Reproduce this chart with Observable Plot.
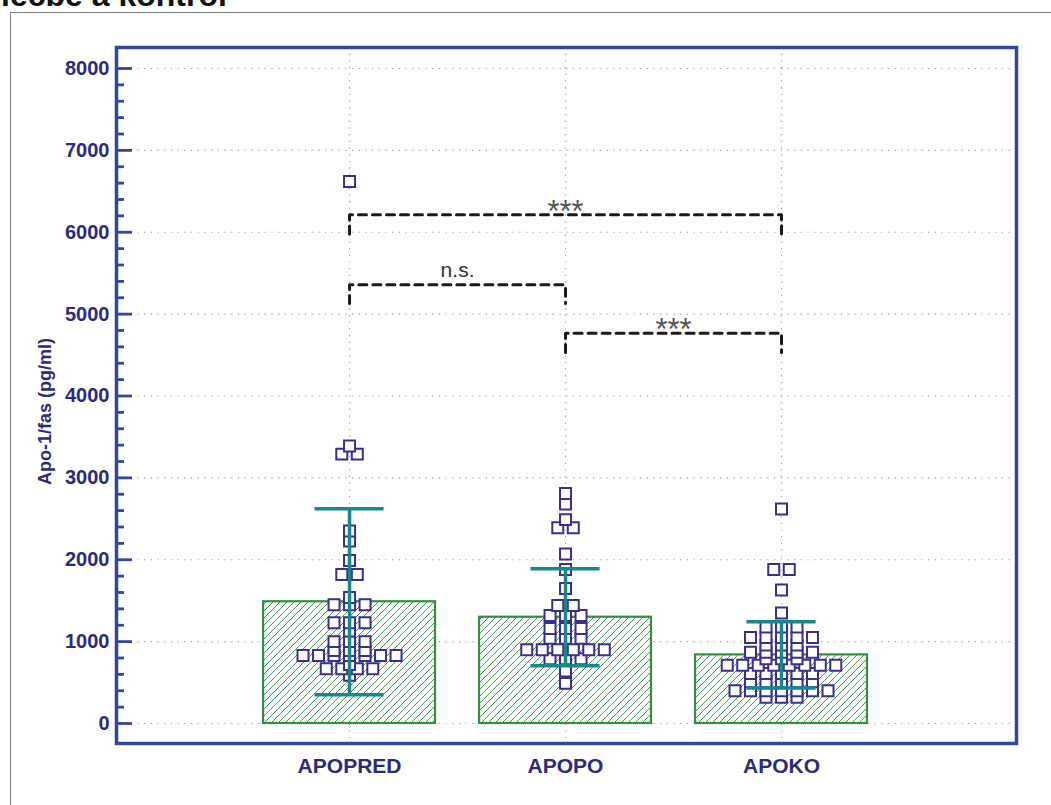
<!DOCTYPE html>
<html>
<head>
<meta charset="utf-8">
<script src="https://cdn.jsdelivr.net/npm/d3@7"></script>
<script src="https://cdn.jsdelivr.net/npm/@observablehq/plot@0.6"></script>
<style>
html, body { margin: 0; padding: 0; background: #fff; }
#page { position: relative; width: 1051px; height: 805px; overflow: hidden; background: #fff; font-family: "Liberation Sans", Arial, sans-serif; }
#title { position: absolute; left: 1px; top: -21px; font-size: 32px; font-weight: bold; line-height: 32px; color: #111; white-space: nowrap; }
#border { position: absolute; left: 10px; top: 12px; width: 1100px; height: 900px; border: 1px solid #7a7a7a; }
#chart { position: absolute; left: 0; top: 0; }
</style>
</head>
<body>
<div id="page">
  <div id="title">léčbě a kontrol</div>
  <div id="border"></div>
  <div id="chart"></div>
</div>
<script>
// ---- data ----
const groups = ["APOPRED", "APOPO", "APOKO"];
const means = [1487, 1298, 838];
const sds = [1136, 593, 405];

const valuesAPOPRED = [6620, 3390, 3290, 3290, 2350, 2230, 1990, 1820, 1820, 1540,
  1450, 1450, 1450, 1230, 1230, 1230, 1130, 1000, 1000, 1000, 890, 890, 890,
  830, 830, 830, 830, 830, 830, 830, 720, 670, 670, 670, 670, 590];
const valuesAPOPO = [2810, 2680, 2490, 2390, 2390, 2070, 1880, 1650, 1440, 1440,
  1320, 1320, 1320, 1160, 1160, 1160, 1040, 1040, 1040, 900, 900, 900, 900, 900, 900,
  790, 790, 790, 640, 490];
const valuesAPOKO = [2620, 1880, 1880, 1630, 1350, 1180, 1180, 1180,
  1050, 1050, 1050, 1050, 1050, 960, 960, 960, 870, 870, 870, 870, 870,
  790, 790, 790, 710, 710, 710, 710, 710, 710, 710, 710,
  610, 610, 610, 610, 610, 510, 510, 510, 510, 510,
  400, 400, 400, 400, 400, 400, 400, 320, 320, 320];
const groupValues = [valuesAPOPRED, valuesAPOPO, valuesAPOKO];

const bracketFrom = [0, 0, 1];
const bracketTo = [2, 1, 2];
const bracketTop = [6213, 5358, 4767];
const bracketBottom = [5980, 5130, 4530];
const bracketLabel = ["***", "n.s.", "***"];

const yTicks = d3.range(0, 8001, 1000);
const yMinorTicks = d3.range(0, 8001, 200).filter(v => v % 1000 !== 0);

// ---- styling / layout constants ----
const navy = "#2d2a7a";
const frameBlue = "#34469b";
const dotColor = "#3a2e8e";
const teal = "#15898a";
const green = "#2f9040";
const barHalf = 0.398;
const capHalf = 0.16;
const dotStep = 0.0718;
const clusterTol = 40;

// ---- derived tables ----
const barData = groups.map((g, i) => ({ i, group: g, mean: means[i], sd: sds[i] }));

function layoutDots(values, gi) {
  const sorted = [...values].sort((a, b) => a - b);
  const clusters = [];
  for (const v of sorted) {
    const last = clusters[clusters.length - 1];
    if (last && v - last[0] <= clusterTol) last.push(v); else clusters.push([v]);
  }
  return clusters.flatMap(c => c.map((v, k) => ({ group: groups[gi], value: v, x: gi + (k - (c.length - 1) / 2) * dotStep })));
}
const dotData = groupValues.flatMap((vals, gi) => layoutDots(vals, gi));

const bracketLines = bracketFrom.flatMap((f, k) => [
  { k, x: f, y: bracketBottom[k] },
  { k, x: f, y: bracketTop[k] },
  { k, x: bracketTo[k], y: bracketTop[k] },
  { k, x: bracketTo[k], y: bracketBottom[k] }
]);
const bracketTexts = bracketFrom.map((f, k) => ({ x: (f + bracketTo[k]) / 2, y: bracketTop[k], label: bracketLabel[k] }));

const hatchDefs = () => {
  const defs = d3.create("svg:defs");
  const p = defs.append("pattern")
    .attr("id", "hatch").attr("patternUnits", "userSpaceOnUse")
    .attr("width", 7).attr("height", 7);
  p.append("rect").attr("width", 7).attr("height", 7).attr("fill", "white");
  p.append("path").attr("d", "M-1,1 l2,-2 M0,7 l7,-7 M6,8 l2,-2")
    .attr("stroke", "#3d9a4c").attr("stroke-width", 1);
  return defs.node();
};

const chart = Plot.plot({
  width: 1051,
  height: 805,
  marginLeft: 116,
  marginRight: 35,
  marginTop: 47,
  marginBottom: 62,
  style: { fontFamily: "'Liberation Sans', Arial, sans-serif", background: "white" },
  x: { type: "linear", domain: [-1.079, 3.088] },
  y: { domain: [-244.3, 8256.5] },
  marks: [
    hatchDefs,
    Plot.gridY(yTicks, { stroke: "#9b9b9b", strokeOpacity: 1, strokeWidth: 1.2, strokeDasharray: "1.2,5.5", insetLeft: 8 }),
    Plot.gridX([0, 1, 2], { stroke: "#9b9b9b", strokeOpacity: 1, strokeWidth: 1.2, strokeDasharray: "1.2,5.5" }),
    Plot.rectY(barData, { x1: d => d.i - barHalf, x2: d => d.i + barHalf, y1: 0, y2: "mean", fill: "url(#hatch)", stroke: green, strokeWidth: 2.2 }),
    Plot.dot(dotData, { x: "x", y: "value", symbol: "square", r: 6.2, fill: "white", stroke: dotColor, strokeWidth: 2 }),
    Plot.ruleX(barData, { x: "i", y1: d => d.mean - d.sd, y2: d => d.mean + d.sd, stroke: teal, strokeWidth: 3.5 }),
    Plot.ruleY(barData, { y: d => d.mean + d.sd, x1: d => d.i - capHalf, x2: d => d.i + capHalf, stroke: teal, strokeWidth: 3.5 }),
    Plot.ruleY(barData, { y: d => d.mean - d.sd, x1: d => d.i - capHalf, x2: d => d.i + capHalf, stroke: teal, strokeWidth: 3.5 }),
    Plot.line(bracketLines, { x: "x", y: "y", z: "k", stroke: "#1a1a1a", strokeWidth: 3, strokeDasharray: "8,6" }),
    Plot.text(bracketTexts.filter(d => d.label === "***"), { x: "x", y: "y", text: "label", fontSize: 31, fill: "#555", dy: -3, lineAnchor: "middle", ariaLabel: "sig-stars" }),
    Plot.text(bracketTexts.filter(d => d.label !== "***"), { x: "x", y: "y", text: "label", fontSize: 21, fill: "#333", dy: -15, lineAnchor: "middle" }),
    Plot.tickY(yTicks, { y: d => d, stroke: frameBlue, strokeWidth: 2.8, insetRight: 900 - 16 }),
    Plot.tickY(yMinorTicks, { y: d => d, stroke: frameBlue, strokeWidth: 2.8, insetRight: 900 - 8 }),
    Plot.axisY({ ticks: yTicks, tickFormat: d => String(d), tickSize: 0, tickPadding: 7, fontSize: 20, fontWeight: "bold", fill: navy, label: null }),
    Plot.axisX({ ticks: [0, 1, 2], tickFormat: i => groups[i], tickSize: 0, tickPadding: 15, fontSize: 21, fontWeight: "bold", fill: navy, label: null }),
    Plot.text(["Apo-1/fas (pg/ml)"], { text: d => d, frameAnchor: "left", dx: -71, dy: 16, rotate: -90, fontSize: 18, fontWeight: "bold", fill: navy, textAnchor: "middle" }),
    Plot.frame({ stroke: frameBlue, strokeWidth: 3.5 })
  ]
});

d3.select(chart).selectAll('g[aria-label="sig-stars"] text').style("letter-spacing", "2px");
d3.select(chart).style("background", "transparent");
document.getElementById("chart").appendChild(chart);
</script>
</body>
</html>
